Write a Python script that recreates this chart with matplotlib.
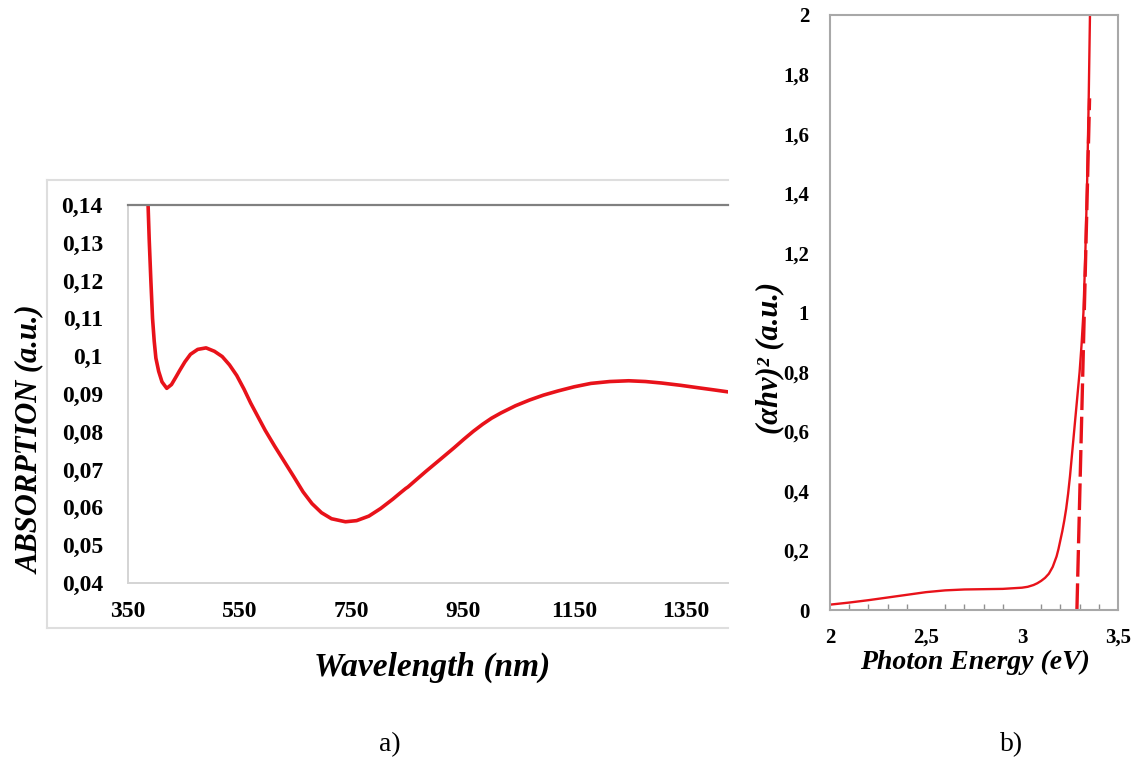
import matplotlib
matplotlib.use("Agg")
import matplotlib.pyplot as plt
from matplotlib.lines import Line2D

# panel a) absorption spectrum (values read off the picture)
wavelength = [386, 388, 391, 394, 397, 400, 405, 411, 419.5, 428, 436, 443, 452, 462,
              475, 490, 505, 519, 532, 545, 558, 570, 583, 596, 613, 630, 647, 664,
              680, 697, 715, 740, 760, 782, 803, 825, 838, 848, 852, 866, 884, 910,
              935, 952, 969, 986, 1002, 1019, 1045, 1070, 1095, 1121, 1150, 1180, 1214,
              1248, 1278, 1307, 1341, 1375, 1400, 1429]
absorption = [0.140, 0.131, 0.120, 0.110, 0.104, 0.0995, 0.0960, 0.0932, 0.0915,
              0.0925, 0.0945, 0.0963, 0.0985, 0.1005, 0.1018, 0.1022, 0.1013, 0.0999,
              0.0977, 0.0949, 0.0913, 0.0876, 0.0840, 0.0804, 0.0762, 0.0722, 0.0682,
              0.0641, 0.0610, 0.0586, 0.0570, 0.0562, 0.0565, 0.0577, 0.0597, 0.0622,
              0.0638, 0.0650, 0.0654, 0.0672, 0.0695, 0.0727, 0.0758, 0.0780, 0.0801,
              0.0820, 0.0836, 0.0850, 0.0869, 0.0884, 0.0897, 0.0908, 0.0919, 0.0928,
              0.0933, 0.0935, 0.0933, 0.0929, 0.0923, 0.0916, 0.0911, 0.0905]
a_xticks = [350, 550, 750, 950, 1150, 1350]
a_xticklabels = ["350", "550", "750", "950", "1150", "1350"]
a_yticks = [0.04, 0.05, 0.06, 0.07, 0.08, 0.09, 0.10, 0.11, 0.12, 0.13, 0.14]
a_yticklabels = ["0,04", "0,05", "0,06", "0,07", "0,08", "0,09", "0,1", "0,11",
                 "0,12", "0,13", "0,14"]

# panel b) Tauc plot
energy = [2.0, 2.1, 2.2, 2.3, 2.4, 2.5, 2.6, 2.7, 2.8, 2.9, 3.0, 3.03, 3.06, 3.08,
          3.1, 3.12, 3.14, 3.16, 3.18, 3.19, 3.2, 3.21, 3.22, 3.23, 3.24, 3.25, 3.26,
          3.27, 3.28, 3.29, 3.30, 3.31, 3.32, 3.33, 3.34, 3.347, 3.354]
tauc = [0.018, 0.025, 0.033, 0.042, 0.051, 0.060, 0.066, 0.069, 0.070, 0.071, 0.075,
        0.078, 0.084, 0.090, 0.098, 0.108, 0.122, 0.145, 0.18, 0.205, 0.235, 0.265,
        0.30, 0.34, 0.39, 0.45, 0.52, 0.59, 0.66, 0.73, 0.80, 0.89, 1.0, 1.2, 1.46,
        1.7, 2.0]
fit_energy = [3.286, 3.352]
fit_tauc = [0.0, 1.72]
b_xticks = [2.0, 2.5, 3.0, 3.5]
b_xticklabels = ["2", "2,5", "3", "3,5"]
b_minor = [2.1, 2.2, 2.3, 2.4, 2.5, 2.6, 2.7, 2.8, 2.9, 3.0, 3.1, 3.2, 3.3, 3.4]
b_yticks = [0, 0.2, 0.4, 0.6, 0.8, 1.0, 1.2, 1.4, 1.6, 1.8, 2.0]
b_yticklabels = ["0", "0,2", "0,4", "0,6", "0,8", "1", "1,2", "1,4", "1,6", "1,8", "2"]

RED = "#e8121a"
W, H = 1137, 774
SERIF = ["Liberation Serif", "DejaVu Serif"]

fig = plt.figure(figsize=(W / 100, H / 100), dpi=100)


def fx(px):
    return px / W


def fy(py):
    return 1 - py / H


# ---- panel a)
ax1 = fig.add_axes([fx(128), fy(583), fx(728) - fx(128), fy(205) - fy(583)])
ax1.plot(wavelength, absorption, color=RED, lw=2.6, solid_joinstyle="round")
ax1.set_xlim(350, 1426)
ax1.set_ylim(0.04, 0.14)
ax1.set_xticks(a_xticks)
ax1.set_xticklabels(a_xticklabels)
ax1.set_yticks(a_yticks)
ax1.set_yticklabels(a_yticklabels)
ax1.tick_params(length=0, pad=18, labelsize=17)
ax1.tick_params(axis="x", pad=13)
for lab in ax1.get_xticklabels() + ax1.get_yticklabels():
    lab.set_family(SERIF)
    lab.set_fontweight("bold")
ax1.spines["right"].set_visible(False)
ax1.spines["top"].set_color("#808080")
ax1.spines["top"].set_linewidth(1.6)
for s in ("left", "bottom"):
    ax1.spines[s].set_color("#d4d4d4")
    ax1.spines[s].set_linewidth(1.4)

# light frame around panel a)
frame = dict(color="#dedede", lw=1.5, transform=fig.transFigure)
fig.add_artist(Line2D([fx(47), fx(728)], [fy(180), fy(180)], **frame))
fig.add_artist(Line2D([fx(47), fx(47)], [fy(180), fy(628)], **frame))
fig.add_artist(Line2D([fx(47), fx(728)], [fy(628), fy(628)], **frame))

fig.text(fx(30), fy(440), "ABSORPTION (a.u.)", rotation=90, ha="center", va="center",
         family=SERIF, fontweight="bold", fontstyle="italic", fontsize=22)
fig.text(fx(432), fy(667), "Wavelength (nm)", ha="center", va="center",
         family=SERIF, fontweight="bold", fontstyle="italic", fontsize=24)

# ---- panel b)
ax2 = fig.add_axes([fx(830), fy(610), fx(1118) - fx(830), fy(15) - fy(610)])
ax2.plot(energy, tauc, color=RED, lw=1.7, solid_joinstyle="round")
ax2.plot(fit_energy, fit_tauc, color=RED, lw=2.4, dashes=(8, 2))
ax2.set_xlim(2.0, 3.5)
ax2.set_ylim(0, 2.0)
ax2.set_xticks(b_xticks)
ax2.set_xticklabels(b_xticklabels)
ax2.set_xticks(b_minor, minor=True)
ax2.set_yticks(b_yticks)
ax2.set_yticklabels(b_yticklabels)
ax2.tick_params(which="major", length=0, labelsize=15)
ax2.tick_params(axis="y", pad=15)
ax2.tick_params(axis="x", pad=13)
ax2.tick_params(axis="x", which="minor", direction="in", length=4, width=1,
                color="#909090")
for lab in ax2.get_xticklabels() + ax2.get_yticklabels():
    lab.set_family(SERIF)
    lab.set_fontweight("bold")
for s in ax2.spines.values():
    s.set_color("#a8a8a8")
    s.set_linewidth(1.5)

fig.text(fx(770), fy(358), "(αhν)² (a.u.)", rotation=90, ha="center", va="center",
         family=SERIF, fontweight="bold", fontstyle="italic", fontsize=22)
fig.text(fx(975), fy(662), "Photon Energy (eV)", ha="center", va="center",
         family=SERIF, fontweight="bold", fontstyle="italic", fontsize=20)

# panel tags
fig.text(fx(390), fy(745), "a)", ha="center", va="center", family=SERIF, fontsize=20)
fig.text(fx(1012), fy(745), "b)", ha="center", va="center", family=SERIF, fontsize=20)

fig.savefig("out.png", dpi=100, facecolor="white")
